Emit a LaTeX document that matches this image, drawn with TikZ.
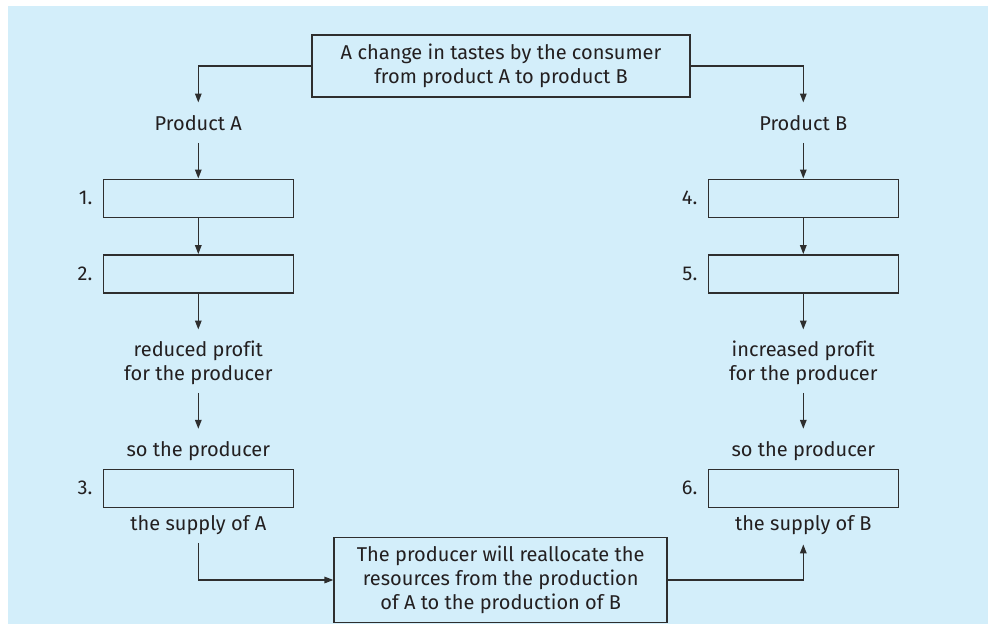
\documentclass[tikz,border=0pt]{standalone}
\usepackage{fontspec}
\setmainfont{Fira Sans}[Ligatures=NoCommon]
\usetikzlibrary{arrows.meta}
\definecolor{bg}{HTML}{D3EEFA}
\definecolor{ln}{HTML}{2E2E2E}
\definecolor{tx}{HTML}{231F20}
\begin{document}
\begin{tikzpicture}[x=1pt,y=-1pt,
  every node/.style={font=\fontsize{20}{24}\selectfont, text=tx},
  stepbox/.style={draw=ln, line width=1.6pt, minimum width=190pt, minimum height=38pt, inner sep=0pt},
  bigbox/.style={draw=ln, line width=1.6pt, align=center, inner sep=0pt},
  lbl/.style={inner sep=0pt, text height=14pt, text depth=4pt, anchor=base},
  lbltwo/.style={inner sep=0pt, align=center, text height=38pt, text depth=4pt, anchor=base},
  num/.style={inner sep=0pt, anchor=east},
  arr/.style={draw=ln, line width=1.5pt, -{Triangle[length=9pt,width=6.5pt]}},
]
\fill[bg] (8,6) rectangle (988,624);
\useasboundingbox (0,0) rectangle (988,624);

\node[bigbox, minimum width=378pt, minimum height=62pt] (top) at (501,66)
  {A change in tastes by the consumer\\from product A to product B};

% left column
\node[lbl] (pa) at (198.3,130.7) {Product A};
\node[stepbox] (b1) at (198.3,198.3) {};
\node[stepbox] (b2) at (198.3,273.9) {};
\node[lbltwo] (rp) at (198.3,380.7) {reduced profit\\for the producer};
\node[lbl] (sa) at (198.3,456) {so the producer};
\node[stepbox] (b3) at (198.3,488.3) {};
\node[lbl] (supa) at (198.3,530.7) {the supply of A};
\node[num] (n1) at ([xshift=-10pt]b1.west) {1.};
\node[num] (n2) at ([xshift=-10pt]b2.west) {2.};
\node[num] (n3) at ([xshift=-10pt]b3.west) {3.};

% right column
\node[lbl] (pb) at (803.3,130.7) {Product B};
\node[stepbox] (b4) at (803.3,198.3) {};
\node[stepbox] (b5) at (803.3,273.9) {};
\node[lbltwo] (ip) at (803.3,380.7) {increased profit\\for the producer};
\node[lbl] (sb) at (803.3,456) {so the producer};
\node[stepbox] (b6) at (803.3,488.3) {};
\node[lbl] (supb) at (803.3,530.7) {the supply of B};
\node[num] (n4) at ([xshift=-10pt]b4.west) {4.};
\node[num] (n5) at ([xshift=-10pt]b5.west) {5.};
\node[num] (n6) at ([xshift=-10pt]b6.west) {6.};

\node[bigbox, minimum width=333pt, minimum height=85pt] (bot) at (500.7,580)
  {The producer will reallocate the\\resources from the production\\of A to the production of B};

% connectors
\draw[arr, shorten >=14pt] (top.west) -| (pa.north);
\draw[arr, shorten >=14pt] (top.east) -| (pb.north);
\draw[arr, shorten <=8pt] (pa.south) -- (b1.north);
\draw[arr, shorten <=8pt] (pb.south) -- (b4.north);
\draw[arr] (b1.south) -- (b2.north);
\draw[arr] (b4.south) -- (b5.north);
\draw[arr, shorten >=13pt] (b2.south) -- (rp.north);
\draw[arr, shorten >=13pt] (b5.south) -- (ip.north);
\draw[arr, shorten <=8pt, shorten >=13pt] (rp.south) -- (sa.north);
\draw[arr, shorten <=8pt, shorten >=13pt] (ip.south) -- (sb.north);
\draw[arr, shorten <=8pt] (supa.south) |- (bot.west);
\draw[arr, shorten >=9.5pt] (bot.east) -| (supb.south);
\end{tikzpicture}
\end{document}
